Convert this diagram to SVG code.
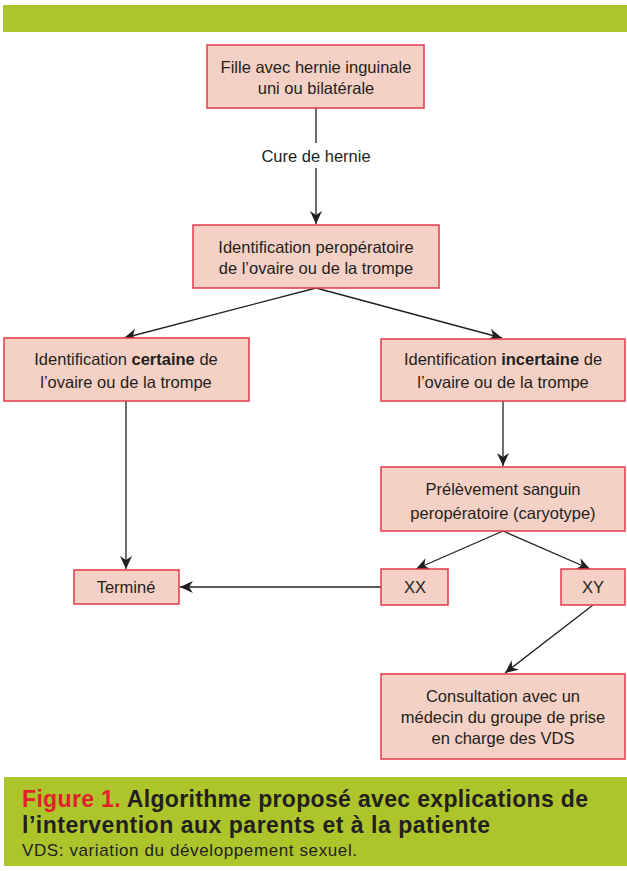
<svg xmlns="http://www.w3.org/2000/svg" width="627" height="871" viewBox="0 0 627 871">
<defs>
<marker id="ah" markerUnits="userSpaceOnUse" markerWidth="14" markerHeight="12" refX="13" refY="6" orient="auto">
<path d="M0,0 L13,6 L0,12 L4,6 Z" fill="#231f20"/>
</marker>
<style>
.box{fill:#f5d0c4;stroke:#e23a47;stroke-width:1.5}
.t{font-family:"Liberation Sans",Arial,sans-serif;font-size:16.5px;fill:#231f20;text-anchor:middle}
.b{font-weight:bold}
.ln{stroke:#231f20;stroke-width:1.3;fill:none}
.cap{font-family:"Liberation Sans",Arial,sans-serif;font-weight:bold;font-size:23px;fill:#231f20}
</style>
</defs>
<rect x="3" y="5" width="624" height="27" fill="#adc42b"/>
<g id="connectors">
<line class="ln" x1="316" y1="108" x2="316" y2="143"/>
<line class="ln" x1="316" y1="168" x2="316" y2="224" marker-end="url(#ah)"/>
<line class="ln" x1="316" y1="288" x2="124" y2="338" marker-end="url(#ah)"/>
<line class="ln" x1="316" y1="288" x2="502" y2="338" marker-end="url(#ah)"/>
<line class="ln" x1="126" y1="401" x2="126" y2="569" marker-end="url(#ah)"/>
<line class="ln" x1="503" y1="401" x2="503" y2="466" marker-end="url(#ah)"/>
<line class="ln" x1="503" y1="531" x2="416" y2="569" marker-end="url(#ah)"/>
<line class="ln" x1="503" y1="531" x2="590" y2="569" marker-end="url(#ah)"/>
<line class="ln" x1="381" y1="587" x2="180" y2="587" marker-end="url(#ah)"/>
<line class="ln" x1="593" y1="605" x2="505" y2="673" marker-end="url(#ah)"/>
<text class="t" x="316" y="162">Cure de hernie</text>
</g>
<g id="n1">
<rect class="box" x="207" y="45" width="217" height="63"/>
<text class="t" x="316" y="73">Fille avec hernie inguinale</text>
<text class="t" x="316" y="94">uni ou bilatérale</text>
</g>
<g id="n2">
<rect class="box" x="193" y="225" width="246" height="63"/>
<text class="t" x="316" y="253">Identification peropératoire</text>
<text class="t" x="316" y="274">de l’ovaire ou de la trompe</text>
</g>
<g id="n3">
<rect class="box" x="4" y="338" width="245" height="63"/>
<text class="t" x="126" y="365">Identification <tspan class="b">certaine</tspan> de</text>
<text class="t" x="126" y="388">l’ovaire ou de la trompe</text>
</g>
<g id="n4">
<rect class="box" x="381" y="339" width="244" height="62"/>
<text class="t" x="503" y="365">Identification <tspan class="b">incertaine</tspan> de</text>
<text class="t" x="503" y="388">l’ovaire ou de la trompe</text>
</g>
<g id="n5">
<rect class="box" x="381" y="467" width="244" height="64"/>
<text class="t" x="503" y="495">Prélèvement sanguin</text>
<text class="t" x="503" y="519">peropératoire (caryotype)</text>
</g>
<g id="n6">
<rect class="box" x="74" y="570" width="105" height="34"/>
<text class="t" x="126" y="593">Terminé</text>
</g>
<g id="n7">
<rect class="box" x="381" y="569" width="67" height="36"/>
<text class="t" x="415" y="593">XX</text>
</g>
<g id="n8">
<rect class="box" x="561" y="569" width="64" height="36"/>
<text class="t" x="593" y="593">XY</text>
</g>
<g id="n9">
<rect class="box" x="381" y="674" width="244" height="85"/>
<text class="t" x="503" y="702">Consultation avec un</text>
<text class="t" x="503" y="723">médecin du groupe de prise</text>
<text class="t" x="503" y="744">en charge des VDS</text>
</g>
<rect x="4" y="777" width="623" height="89" fill="#adc42b"/>
<text class="cap" x="22" y="807" textLength="566" lengthAdjust="spacing"><tspan fill="#e31e2d">Figure 1.</tspan> Algorithme proposé avec explications de</text>
<text class="cap" x="22" y="833" textLength="468" lengthAdjust="spacing">l’intervention aux parents et à la patiente</text>
<text x="22" y="856" font-family="Liberation Sans, Arial, sans-serif" font-size="17px" fill="#231f20" textLength="335" lengthAdjust="spacing">VDS: variation du développement sexuel.</text>
</svg>
